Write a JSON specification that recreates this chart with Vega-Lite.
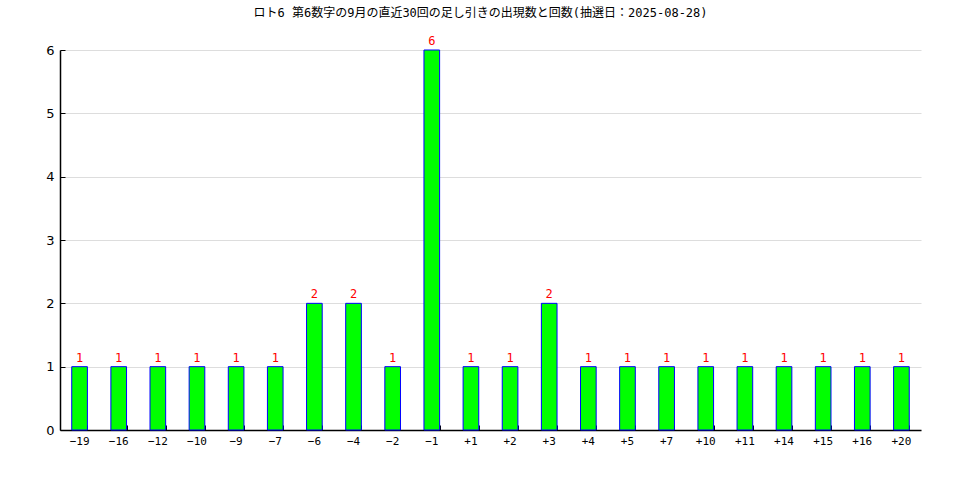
{
  "$schema": "https://vega.github.io/schema/vega-lite/v6.json",
  "width": 861,
  "height": 380,
  "autosize": {"type": "none"},
  "padding": {"left": 60, "top": 50, "right": 39, "bottom": 50},
  "background": "white",
  "title": {
    "text": "ロト6 第6数字の9月の直近30回の足し引きの出現数と回数(抽選日：2025-08-28)",
    "font": "DejaVu Sans Mono, Noto Sans CJK JP",
    "fontSize": 12,
    "fontWeight": "normal",
    "color": "black",
    "anchor": "middle",
    "frame": "group",
    "dx": -10,
    "offset": 15
  },
  "data": {
    "values": [
      {"diff": "-19", "count": 1},
      {"diff": "-16", "count": 1},
      {"diff": "-12", "count": 1},
      {"diff": "-10", "count": 1},
      {"diff": "-9", "count": 1},
      {"diff": "-7", "count": 1},
      {"diff": "-6", "count": 2},
      {"diff": "-4", "count": 2},
      {"diff": "-2", "count": 1},
      {"diff": "-1", "count": 6},
      {"diff": "+1", "count": 1},
      {"diff": "+2", "count": 1},
      {"diff": "+3", "count": 2},
      {"diff": "+4", "count": 1},
      {"diff": "+5", "count": 1},
      {"diff": "+7", "count": 1},
      {"diff": "+10", "count": 1},
      {"diff": "+11", "count": 1},
      {"diff": "+14", "count": 1},
      {"diff": "+15", "count": 1},
      {"diff": "+16", "count": 1},
      {"diff": "+20", "count": 1}
    ]
  },
  "resolve": {"axis": {"x": "independent", "y": "independent"}},
  "layer": [
    {
      "mark": {"type": "bar", "color": "#00ff00", "stroke": "blue", "strokeWidth": 1},
      "encoding": {
        "x": {
          "field": "diff",
          "type": "nominal",
          "sort": null,
          "scale": {"paddingInner": 0.6, "paddingOuter": 0.3},
          "axis": {
            "title": null,
            "labelAngle": 0,
            "ticks": false,
            "domainColor": "black",
            "domainWidth": 1.5,
            "labelPadding": 5,
            "labelFont": "DejaVu Sans Mono",
            "labelFontSize": 11,
            "labelColor": "black",
            "labelExpr": "replace(datum.label, '-', '−')"
          }
        },
        "y": {
          "field": "count",
          "type": "quantitative",
          "scale": {"domain": [0, 6], "nice": false},
          "axis": {
            "title": null,
            "values": [0, 1, 2, 3, 4, 5, 6],
            "labelOverlap": false,
            "labelFlush": false,
            "ticks": false,
            "domainColor": "black",
            "domainWidth": 1.5,
            "gridColor": "#dddddd",
            "labelPadding": 6,
            "labelFont": "DejaVu Sans",
            "labelFontSize": 13,
            "labelColor": "black"
          }
        }
      }
    },
    {
      "mark": {"type": "text", "color": "red", "dy": -9, "font": "DejaVu Sans Mono", "fontSize": 12},
      "encoding": {
        "x": {
          "field": "diff",
          "type": "nominal",
          "sort": null,
          "axis": {
            "orient": "top",
            "offset": -380,
            "title": null,
            "labels": false,
            "domain": false,
            "grid": false,
            "tickBand": "extent",
            "tickSize": 5,
            "tickColor": "black"
          }
        },
        "y": {
          "field": "count",
          "type": "quantitative",
          "axis": {
            "orient": "right",
            "offset": -861,
            "title": null,
            "labels": false,
            "domain": false,
            "grid": false,
            "values": [0, 1, 2, 3, 4, 5, 6],
            "tickSize": 5,
            "tickColor": "black"
          }
        },
        "text": {"field": "count", "type": "quantitative"}
      }
    }
  ],
  "config": {"view": {"stroke": null}}
}
